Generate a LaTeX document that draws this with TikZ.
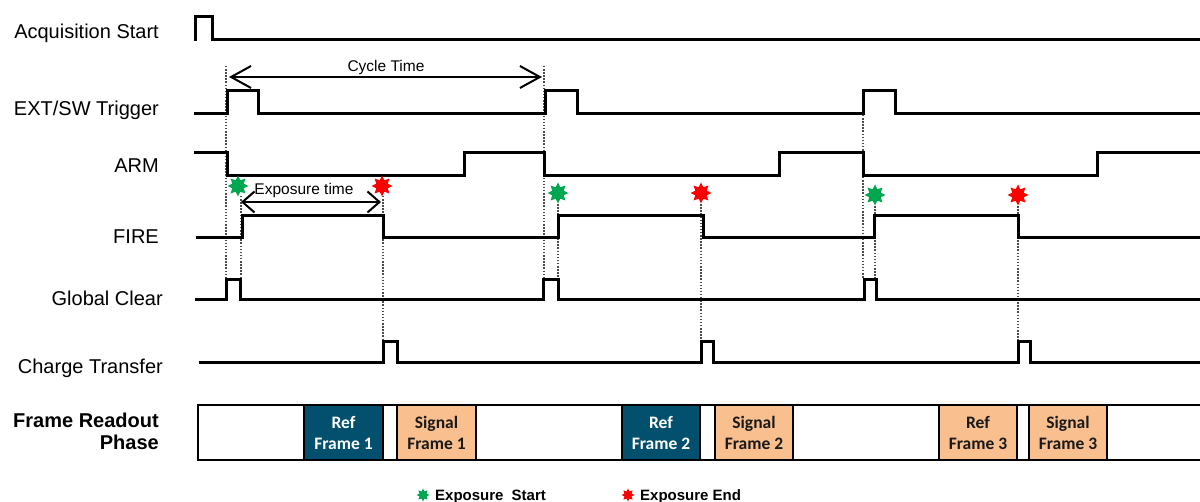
\documentclass[tikz,border=0pt]{standalone}
\usepackage{fontspec}
\setmainfont{Liberation Sans}
\newfontfamily\calib{Carlito}
\usetikzlibrary{shapes.geometric,arrows.meta}
\definecolor{refdark}{RGB}{2,80,110}
\definecolor{peach}{RGB}{250,191,143}
\definecolor{stargreen}{RGB}{0,166,80}
\definecolor{dotgray}{RGB}{75,75,75}
\begin{document}
\begin{tikzpicture}[x=1pt,y=-1pt,
  sig/.style={line width=3pt,line join=miter,line cap=rect},
  lab/.style={anchor=base east,inner sep=0pt,font=\fontsize{20}{22}\selectfont},
  blab/.style={lab,font=\fontsize{20}{22}\selectfont\bfseries},
  guide/.style={dotgray,line width=1.5pt,dash pattern=on 1.5pt off 1.6pt},
  bigstar/.style={star,star points=8,star point ratio=1.7,minimum size=21pt,inner sep=0pt,draw=none},
  smallstar/.style={bigstar,minimum size=13pt},
  span/.style={line width=2pt},
  framebox/.style={draw=black,line width=2pt,minimum height=55pt,inner sep=0pt,align=center,
    font=\calib\fontsize{17.5}{21}\selectfont\bfseries},
  refbox/.style={framebox,fill=refdark,text=white},
  sigbox/.style={framebox,fill=peach,text=black!90}]
\useasboundingbox (0,0) rectangle (1200,502);
\fill[white] (0,0) rectangle (1200,502);

% labels
\node[lab] (lacq) at (159,39) {Acquisition Start};
\node[lab] (ltrig) at (159,115.5) {EXT/SW Trigger};
\node[lab] (larm) at (159,173) {ARM};
\node[lab] (lfire) at (159,244) {FIRE};
\node[lab] (lgc) at (163,306) {Global Clear};
\node[lab] (lct) at (163,374) {Charge Transfer};
\node[blab] (lfr1) at (159,428) {Frame Readout};
\node[blab] (lfr2) at (159,450) {Phase};

% guide lines
\foreach \x/\ya/\yb in {226/66/279, 241/196/279, 383/196/341, 544/66/279, 558/201/279,
  701/201/341, 863/115/279, 875/203/279, 1018/203/341}
  \draw[guide] (\x,\ya) -- (\x,\yb);

% signals
\draw[sig] (195,40)--(195,17)--(212,17)--(212,40)--(1203,40);
\draw[sig] (195,114)--(227,114)--(227,91)--(258,91)--(258,114)--(545,114)--(545,91)--(577,91)--(577,114)
  --(863,114)--(863,91)--(895,91)--(895,114)--(1203,114);
\draw[sig] (195,153)--(227,153)--(227,176)--(464,176)--(464,153)--(544,153)--(544,176)--(779,176)--(779,153)
  --(863,153)--(863,176)--(1097,176)--(1097,153)--(1203,153);
\draw[sig] (197,238)--(242,238)--(242,216)--(383,216)--(383,238)--(558,238)--(558,216)--(703,216)--(703,238)
  --(874,238)--(874,216)--(1018,216)--(1018,238)--(1203,238);
\draw[sig] (196,300)--(226,300)--(226,280)--(240,280)--(240,300)--(543,300)--(543,280)--(558,280)--(558,300)
  --(864,300)--(864,280)--(876,280)--(876,300)--(1203,300);
\draw[sig] (200,363)--(383,363)--(383,342)--(397,342)--(397,363)--(701,363)--(701,342)--(713,342)--(713,363)
  --(1018,363)--(1018,342)--(1030,342)--(1030,363)--(1203,363);

% cycle time
\coordinate (cyA) at (229,77);
\coordinate (cyB) at (542,77);
\draw[span,{Straight Barb[length=20pt,width=22pt]}-{Straight Barb[length=20pt,width=22pt]}] (cyA) -- (cyB);
\node[anchor=base,inner sep=0pt,font=\fontsize{15.5}{18}\selectfont] (lcy) at (386,71.5) {Cycle Time};

% exposure time
\coordinate (exA) at (241,202);
\coordinate (exB) at (381,202);
\draw[span,{Straight Barb[length=12pt,width=21pt]}-{Straight Barb[length=12pt,width=21pt]}] (exA) -- (exB);
\node[anchor=base,inner sep=0pt,font=\fontsize{15.5}{18}\selectfont] (lex) at (304,195) {Exposure time};

% stars
\node[bigstar,fill=stargreen] (g1) at (238,186) {};
\node[bigstar,fill=red] (r1) at (382,186) {};
\node[bigstar,fill=stargreen] (g2) at (558,193) {};
\node[bigstar,fill=red] (r2) at (701,193) {};
\node[bigstar,fill=stargreen] (g3) at (875,195) {};
\node[bigstar,fill=red] (r3) at (1018,195) {};

% frame readout phase
\draw[line width=2pt] (198,405) -- (1203,405);
\draw[line width=2pt] (198,460) -- (1203,460);
\draw[line width=2pt] (198,404) -- (198,461);
\node[refbox,minimum width=79pt] (rf1) at (343.5,432.5) {Ref\\Frame 1};
\node[sigbox,minimum width=79pt] (sf1) at (436.5,432.5) {Signal\\Frame 1};
\node[refbox,minimum width=78pt] (rf2) at (661,432.5) {Ref\\Frame 2};
\node[sigbox,minimum width=78pt] (sf2) at (754,432.5) {Signal\\Frame 2};
\node[sigbox,minimum width=78pt] (rf3) at (978,432.5) {Ref\\Frame 3};
\node[sigbox,minimum width=78pt] (sf3) at (1068,432.5) {Signal\\Frame 3};

% legend
\node[smallstar,fill=stargreen] (lgs) at (423,495) {};
\node[anchor=base west,inner sep=0pt,font=\fontsize{15}{18}\selectfont\bfseries] (lgst) at (435,500.5) {Exposure\hspace{4pt} Start};
\node[smallstar,fill=red] (lge) at (628,495) {};
\node[anchor=base west,inner sep=0pt,font=\fontsize{15}{18}\selectfont\bfseries] (lget) at (640,500.5) {Exposure End};
\end{tikzpicture}
\end{document}
